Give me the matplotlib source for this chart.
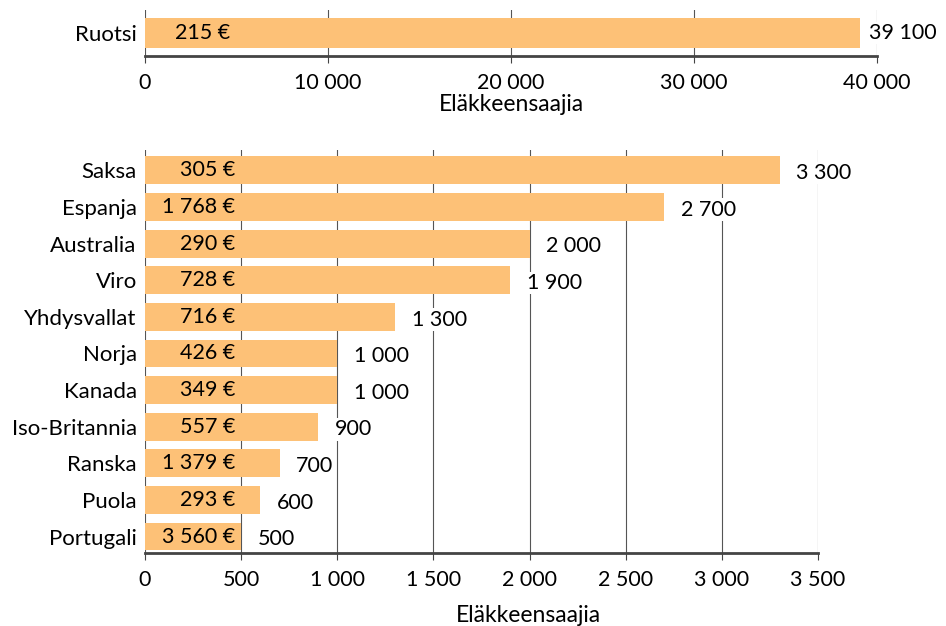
import matplotlib
matplotlib.use("Agg")
import matplotlib.pyplot as plt
from matplotlib.ticker import FuncFormatter

plt.rcParams["font.family"] = ["Lato", "DejaVu Sans"]

# top panel
top_country = ["Ruotsi"]
top_count = [39100]
top_pension = ["215 €"]

# bottom panel
countries = ["Saksa", "Espanja", "Australia", "Viro", "Yhdysvallat", "Norja",
             "Kanada", "Iso-Britannia", "Ranska", "Puola", "Portugali"]
counts = [3300, 2700, 2000, 1900, 1300, 1000, 1000, 900, 700, 600, 500]
pensions = ["305 €", "1 768 €", "290 €", "728 €", "716 €", "426 €",
            "349 €", "557 €", "1 379 €", "293 €", "3 560 €"]

bar_color = "#FDC177"
grid_color = "#555555"
fs = 15.5


def fmt(v):
    return f"{int(v):,}".replace(",", " ")


def style(ax, ticks):
    ax.set_xticks(ticks)
    ax.xaxis.set_major_formatter(FuncFormatter(lambda v, p: fmt(v)))
    ax.grid(axis="x", color=grid_color, linewidth=0.8)
    ax.set_axisbelow(True)
    for s in ["top", "right", "left"]:
        ax.spines[s].set_visible(False)
    ax.spines["bottom"].set_color("#444444")
    ax.spines["bottom"].set_linewidth(2)
    ax.tick_params(axis="x", length=5, width=0.8, color="#444444",
                   labelsize=fs, pad=7)
    ax.tick_params(axis="y", length=0, labelsize=16, pad=6)


fig = plt.figure(figsize=(9.46, 6.26), dpi=100)

ax1 = fig.add_axes([0.1533, 0.9105, 0.927 - 0.1533, 0.984 - 0.9105])
ax1.barh(range(len(top_country)), top_count, height=1.0, color=bar_color)
ax1.set_yticks(range(len(top_country)), top_country)
ax1.set_ylim(0.77, -0.77)
ax1.set_xlim(0, 40000)
style(ax1, [0, 10000, 20000, 30000, 40000])
ax1.set_xlabel("Eläkkeensaajia", fontsize=16.5, labelpad=1)
for i, (v, p) in enumerate(zip(top_count, top_pension)):
    ax1.annotate(fmt(v), (v, i), xytext=(6, 0), textcoords="offset points",
                 ha="left", va="center", fontsize=fs,
                 bbox=dict(facecolor="white", edgecolor="none", pad=1))
    ax1.annotate(p, (0, i), xycoords=ax1.get_yaxis_transform(),
                 xytext=(61, 0), textcoords="offset points",
                 ha="right", va="center", fontsize=fs)

ax2 = fig.add_axes([0.1533, 0.1166, 0.8647 - 0.1533, 0.760 - 0.1166])
ax2.barh(range(len(countries)), counts, height=0.76, color=bar_color)
ax2.set_yticks(range(len(countries)), countries)
ax2.set_ylim(10.45, -0.55)
ax2.set_xlim(0, 3500)
style(ax2, range(0, 3501, 500))
ax2.set_xlabel("Eläkkeensaajia", fontsize=16.5, labelpad=12)
ax2.xaxis.set_label_coords(0.569, -0.13)
for i, (v, p) in enumerate(zip(counts, pensions)):
    ax2.annotate(fmt(v), (v, i), xytext=(12, -2), textcoords="offset points",
                 ha="left", va="center", fontsize=fs,
                 bbox=dict(facecolor="white", edgecolor="none", pad=1))
    ax2.annotate(p, (0, i), xycoords=ax2.get_yaxis_transform(),
                 xytext=(65, 0), textcoords="offset points",
                 ha="right", va="center", fontsize=fs)

fig.savefig("out.png", dpi=100)
